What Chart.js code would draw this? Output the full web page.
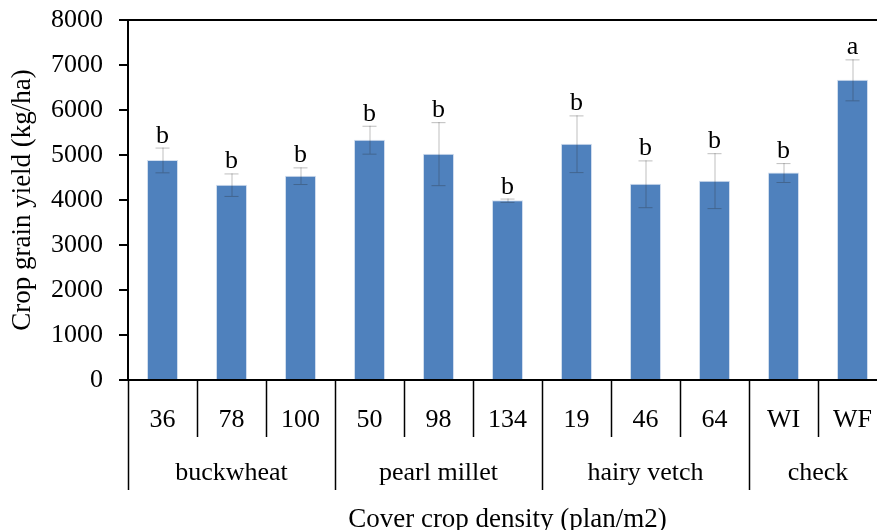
<!DOCTYPE html>
<html>
<head>
<meta charset="utf-8">
<script src="https://cdn.jsdelivr.net/npm/chart.js@4.4.0/dist/chart.umd.min.js"></script>
<style>
  html, body { margin: 0; padding: 0; background: #fff; overflow: hidden; }
  #wrap { width: 890px; height: 530px; position: relative; }
</style>
</head>
<body>
<div id="wrap"><canvas id="myChart"></canvas></div>
<script>
const densities = ['36', '78', '100', '50', '98', '134', '19', '46', '64', 'WI', 'WF'];
const crops = ['buckwheat', 'pearl millet', 'hairy vetch', 'check'];
const cropSizes = [3, 3, 3, 2];
const yieldMeans = [4890, 4340, 4540, 5340, 5030, 3995, 5250, 4360, 4430, 4610, 6670];
const yieldErrors = [275, 250, 185, 310, 700, 37, 630, 520, 610, 210, 455];
const letters = ['b', 'b', 'b', 'b', 'b', 'b', 'b', 'b', 'b', 'b', 'a'];
const yTicks = [0, 1000, 2000, 3000, 4000, 5000, 6000, 7000, 8000];

const serif = "'Liberation Serif', 'Times New Roman', serif";

// error bars, letters, top frame line and grouped x labels
const extras = {
  id: 'extras',
  afterDatasetsDraw(chart) {
    const c = chart.ctx;
    const y = chart.scales.y;
    const meta = chart.getDatasetMeta(0);
    c.save();
    meta.data.forEach((bar, i) => {
      const hi = y.getPixelForValue(yieldMeans[i] + yieldErrors[i]);
      const lo = y.getPixelForValue(yieldMeans[i] - yieldErrors[i]);
      c.strokeStyle = 'rgba(40,40,40,0.3)';
      c.lineWidth = 1;
      c.beginPath();
      c.moveTo(bar.x + 0.5, hi); c.lineTo(bar.x + 0.5, lo);
      c.moveTo(bar.x - 7, hi + 0.5); c.lineTo(bar.x + 7, hi + 0.5);
      c.moveTo(bar.x - 7, lo + 0.5); c.lineTo(bar.x + 7, lo + 0.5);
      c.stroke();
      c.fillStyle = '#000';
      c.font = '26px ' + serif;
      c.textAlign = 'center';
      c.textBaseline = 'alphabetic';
      c.fillText(letters[i], bar.x, hi - 5);
    });
    c.restore();
  },
  afterDraw(chart) {
    const c = chart.ctx;
    const a = chart.chartArea;
    const x = chart.scales.x;
    const step = x.getPixelForValue(1) - x.getPixelForValue(0);
    c.save();
    c.strokeStyle = '#000';
    c.lineWidth = 2;
    c.beginPath();
    c.moveTo(a.left - 1, a.top);
    c.lineTo(a.right, a.top);
    c.stroke();

    const groupEdges = [0];
    cropSizes.forEach(n => groupEdges.push(groupEdges[groupEdges.length - 1] + n));
    c.lineWidth = 1.5;
    c.beginPath();
    for (let i = 0; i <= densities.length; i++) {
      const bx = Math.round(x.getPixelForValue(i) - step / 2) + 0.5;
      const len = groupEdges.includes(i) ? 110 : 57;
      c.moveTo(bx, a.bottom);
      c.lineTo(bx, a.bottom + len);
    }
    c.stroke();

    c.fillStyle = '#000';
    c.font = '26px ' + serif;
    c.textAlign = 'center';
    c.textBaseline = 'middle';
    crops.forEach((name, g) => {
      const x0 = x.getPixelForValue(groupEdges[g]) - step / 2;
      const x1 = x.getPixelForValue(groupEdges[g + 1]) - step / 2;
      c.fillText(name, (x0 + x1) / 2, a.bottom + 93);
    });
    c.restore();
  }
};

const ctx = document.getElementById('myChart');

new Chart(ctx, {
  type: 'bar',
  data: {
    labels: densities,
    datasets: [{
      label: 'Crop grain yield',
      data: yieldMeans,
      backgroundColor: '#4F81BD',
      borderColor: 'rgba(200,215,235,0.8)',
      borderWidth: 1,
      categoryPercentage: 1,
      barPercentage: 0.45
    }]
  },
  options: {
    responsive: true,
    maintainAspectRatio: false,
    animation: false,
    layout: { padding: { top: 20, right: 3, left: 0, bottom: 0 } },
    plugins: {
      legend: { display: false },
      tooltip: { enabled: false }
    },
    scales: {
      x: {
        afterFit(scale) {
          scale.height = 150;
          scale.paddingLeft = 0;
          scale.paddingRight = 0;
        },
        grid: { display: false, drawTicks: false },
        border: { display: true, color: '#000', width: 2 },
        ticks: {
          color: '#000',
          font: { family: serif, size: 26 },
          padding: 25,
          maxRotation: 0,
          autoSkip: false
        },
        title: {
          display: true,
          text: 'Cover crop density (plan/m2)',
          color: '#000',
          font: { family: serif, size: 27 },
          padding: { top: 0, bottom: -6 }
        }
      },
      y: {
        min: 0,
        max: 8000,
        afterFit(scale) {
          scale.width = 128;
          scale.paddingTop = 0;
          scale.paddingBottom = 0;
        },
        afterBuildTicks(scale) { scale.ticks = yTicks.map(v => ({ value: v })); },
        grid: {
          drawOnChartArea: false,
          drawTicks: true,
          tickLength: 9,
          color: '#000',
          lineWidth: 2
        },
        border: { display: true, color: '#000', width: 2 },
        ticks: {
          color: '#000',
          font: { family: serif, size: 26 },
          padding: 16,
          callback: v => String(v)
        },
        title: {
          display: true,
          text: 'Crop grain yield (kg/ha)',
          color: '#000',
          font: { family: serif, size: 27 },
          padding: { top: 7, bottom: 0 }
        }
      }
    }
  },
  plugins: [extras]
});
</script>
</body>
</html>
